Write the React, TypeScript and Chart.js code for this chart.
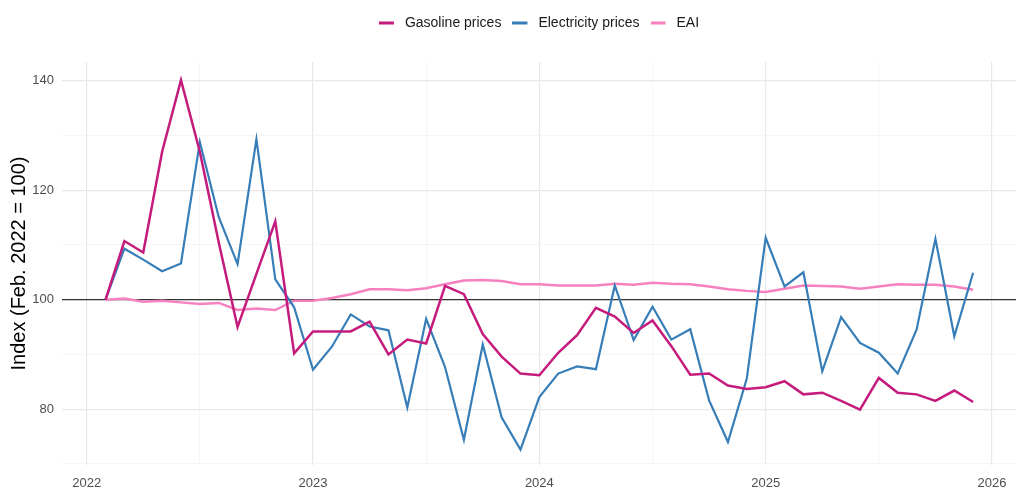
import { useEffect, useRef } from "react";
import { Chart, registerables } from "chart.js";

Chart.register(...registerables);

// monthly observations, Feb. 2022 - Dec. 2025
const months = [
  "2022-02", "2022-03", "2022-04", "2022-05", "2022-06", "2022-07", "2022-08", "2022-09", "2022-10", "2022-11", "2022-12",
  "2023-01", "2023-02", "2023-03", "2023-04", "2023-05", "2023-06", "2023-07", "2023-08", "2023-09", "2023-10", "2023-11", "2023-12",
  "2024-01", "2024-02", "2024-03", "2024-04", "2024-05", "2024-06", "2024-07", "2024-08", "2024-09", "2024-10", "2024-11", "2024-12",
  "2025-01", "2025-02", "2025-03", "2025-04", "2025-05", "2025-06", "2025-07", "2025-08", "2025-09", "2025-10", "2025-11", "2025-12",
];

const gasoline = [
  100, 110.7, 108.6, 127.0, 140.1, 127.0, 110.5, 95.0, 104.7, 114.3, 90.2,
  94.2, 94.2, 94.2, 96.0, 90.0, 92.7, 92.0, 102.5, 101.0, 93.7, 89.6, 86.5,
  86.2, 90.3, 93.5, 98.5, 96.9, 93.9, 96.2, 91.5, 86.3, 86.5, 84.3, 83.7,
  84.0, 85.1, 82.7, 83.0, 81.5, 79.9, 85.7, 83.0, 82.7, 81.5, 83.4, 81.3,
];

const electricity = [
  100, 109.3, 107.3, 105.2, 106.6, 128.8, 115.1, 106.5, 129.3, 103.7, 98.6,
  87.2, 91.4, 97.3, 95.1, 94.4, 80.3, 96.5, 87.7, 74.4, 91.8, 78.5, 72.6,
  82.2, 86.5, 87.8, 87.3, 102.6, 92.6, 98.7, 92.7, 94.6, 81.6, 74.0, 85.6,
  111.3, 102.4, 105.0, 86.9, 96.8, 92.1, 90.3, 86.5, 94.5, 111.1, 93.3, 104.9,
];

const eai = [
  100, 100.2, 99.6, 99.8, 99.5, 99.2, 99.4, 98.1, 98.4, 98.1, 99.8,
  99.8, 100.3, 101.0, 101.9, 101.9, 101.7, 102.1, 102.8, 103.5, 103.6, 103.4, 102.8,
  102.8, 102.6, 102.6, 102.6, 102.9, 102.7, 103.1, 102.9, 102.8, 102.4, 101.9, 101.6,
  101.4, 102.0, 102.6, 102.5, 102.4, 102.0, 102.4, 102.8, 102.7, 102.7, 102.4, 101.8,
];

const yearTicks = [2022, 2023, 2024, 2025, 2026];
const yTickLabels = [80, 100, 120, 140];

const FONT = "'Liberation Sans', Arial, sans-serif";

const toYear = (m: string) => {
  const [y, mo] = m.split("-").map(Number);
  return y + (mo - 1) / 12;
};

const series = (vals: number[]) => months.map((m, i) => ({ x: toYear(m), y: vals[i] }));

// short line used as legend key (15px line, some blank space after it)
const legendKey = (color: string) => {
  const c = document.createElement("canvas");
  c.width = 19;
  c.height = 4;
  const g = c.getContext("2d");
  if (g) {
    g.fillStyle = color;
    g.fillRect(0, 0.5, 15, 3);
  }
  return c;
};

// black reference line at index = 100
const baseLine = {
  id: "baseLine",
  beforeDatasetsDraw(chart: any) {
    const { ctx, chartArea, scales } = chart;
    const y = scales.y.getPixelForValue(100);
    ctx.save();
    ctx.strokeStyle = "#333333";
    ctx.lineWidth = 1.2;
    ctx.beginPath();
    ctx.moveTo(chartArea.left, y);
    ctx.lineTo(chartArea.right, y);
    ctx.stroke();
    ctx.restore();
  },
};

// extra room under the legend, and centre it over the panel
const legendGap = {
  id: "legendGap",
  beforeInit(chart: any) {
    const fit = chart.legend.fit;
    chart.legend.fit = function () {
      fit.bind(chart.legend)();
      this.height = 57;
    };
  },
  afterLayout(chart: any) {
    chart.legend.left = 62;
  },
};

const App = () => {
  const chartRef = useRef<HTMLCanvasElement | null>(null);

  useEffect(() => {
    if (!chartRef.current) return;
    const ctx = chartRef.current.getContext("2d");
    if (!ctx) return;

    const chartInstance = new Chart(ctx, {
      type: "line",
      data: {
        datasets: [
          { label: "Gasoline prices", data: series(gasoline), borderColor: "#c51b7d", backgroundColor: "#c51b7d", borderWidth: 2.5, pointStyle: legendKey("#c51b7d") },
          { label: "Electricity prices", data: series(electricity), borderColor: "#377eb8", backgroundColor: "#377eb8", borderWidth: 2.2, pointStyle: legendKey("#377eb8") },
          { label: "EAI", data: series(eai), borderColor: "#f781bf", backgroundColor: "#f781bf", borderWidth: 2.5, pointStyle: legendKey("#f781bf") },
        ],
      },
      options: {
        animation: false,
        responsive: true,
        maintainAspectRatio: false,
        elements: { point: { radius: 0 }, line: { tension: 0 } },
        layout: { padding: { top: 5, right: 8, left: 0, bottom: 0 } },
        plugins: {
          tooltip: { enabled: false },
          legend: {
            position: "top",
            labels: {
              usePointStyle: true,
              pointStyleWidth: 19,
              padding: 11,
              color: "#1a1a1a",
              font: { family: FONT, size: 14 },
            },
          },
        },
        scales: {
          x: {
            type: "linear",
            min: 2021.891,
            max: 2026.106,
            border: { display: false },
            grid: {
              drawTicks: false,
              color: (c: any) => (yearTicks.includes(c.tick?.value) ? "#e8e8e8" : "#f3f3f3"),
              lineWidth: (c: any) => (yearTicks.includes(c.tick?.value) ? 1.2 : 0.8),
            },
            ticks: {
              stepSize: 0.5,
              includeBounds: false,
              autoSkip: false,
              maxRotation: 0,
              padding: 11,
              color: "#4d4d4d",
              font: { family: FONT, size: 13 },
              callback: (v: any) => (yearTicks.includes(Number(v)) ? String(v) : ""),
            },
            afterFit: (s: any) => {
              s.height = 38;
            },
          },
          y: {
            min: 69.8,
            max: 143.4,
            border: { display: false },
            grid: {
              drawTicks: false,
              color: (c: any) => (yTickLabels.includes(c.tick?.value) ? "#e8e8e8" : "#f3f3f3"),
              lineWidth: (c: any) => (yTickLabels.includes(c.tick?.value) ? 1.2 : 0.8),
            },
            ticks: {
              stepSize: 10,
              includeBounds: false,
              autoSkip: false,
              padding: 8,
              color: "#4d4d4d",
              font: { family: FONT, size: 13 },
              callback: (v: any) => (yTickLabels.includes(Number(v)) ? String(v) : ""),
            },
            title: {
              display: true,
              text: "Index (Feb. 2022 = 100)",
              color: "#000000",
              font: { family: FONT, size: 20 },
              padding: { top: 7, bottom: 0 },
            },
            afterFit: (s: any) => {
              s.width = 62;
            },
          },
        },
      },
      plugins: [baseLine, legendGap],
    });

    return () => {
      chartInstance.destroy();
    };
  }, []);

  return (
    <div style={{ position: "absolute", left: 0, top: 0, width: 1024, height: 503, background: "#ffffff" }}>
      <canvas ref={chartRef}></canvas>
    </div>
  );
};

export default App;
